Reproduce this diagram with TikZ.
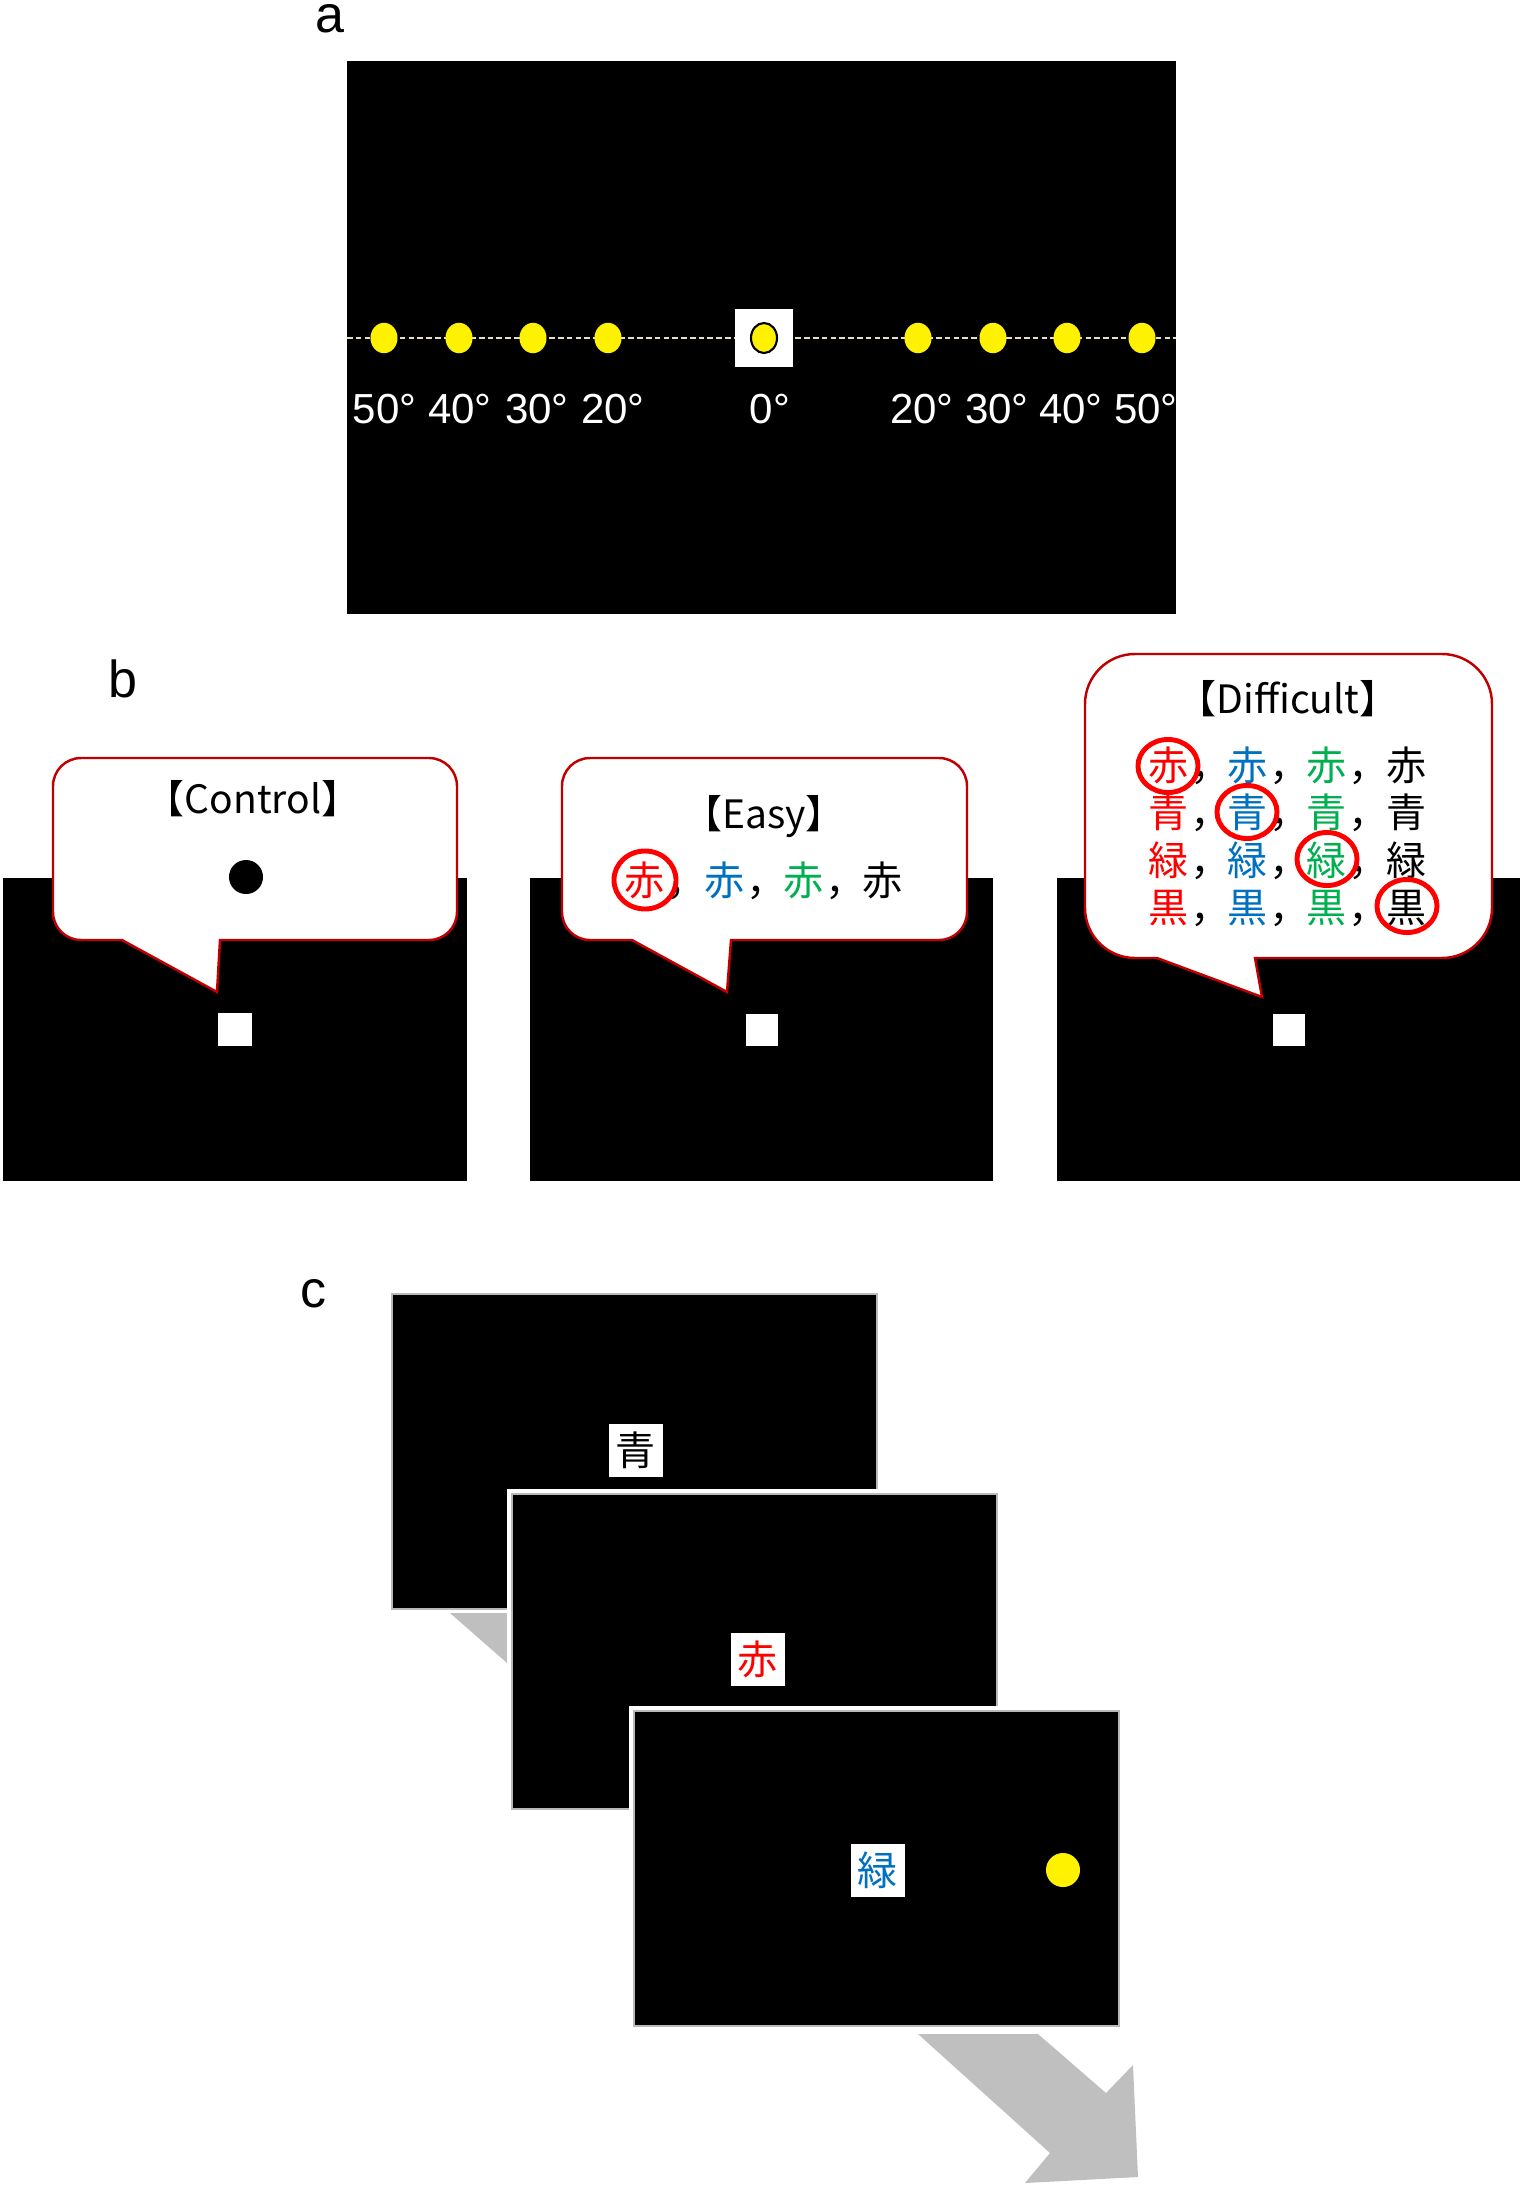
\documentclass[tikz,border=0pt]{standalone}
\usepackage{fontspec}
\setmainfont{Liberation Sans}
\newfontfamily\jp{Noto Sans CJK JP}
\definecolor{bubred}{HTML}{C00000}
\definecolor{cred}{HTML}{FF0000}
\definecolor{cblue}{HTML}{0070C0}
\definecolor{cgreen}{HTML}{00B050}
\definecolor{arrgray}{HTML}{BFBFBF}
\definecolor{dashc}{RGB}{232,222,195}
\newcommand{\mybubble}[9]{%
  \pgfmathsetmacro\bk{0.448*#5}%
  \draw[bubble] (#1+#5,#2) -- (#3-#5,#2)
    .. controls (#3-\bk,#2) and (#3,#2+\bk) .. (#3,#2+#5)
    -- (#3,#4-#5)
    .. controls (#3,#4-\bk) and (#3-\bk,#4) .. (#3-#5,#4)
    -- (#9,#4) -- (#7,#8) -- (#6,#4) -- (#1+#5,#4)
    .. controls (#1+\bk,#4) and (#1,#4-\bk) .. (#1,#4-#5)
    -- (#1,#2+#5)
    .. controls (#1,#2+\bk) and (#1+\bk,#2) .. (#1+#5,#2) -- cycle;}
\begin{document}
\begin{tikzpicture}[x=0.01cm,y=-0.01cm,
  panellab/.style={font=\fontsize{14.8}{17}\selectfont, inner sep=0, anchor=base},
  deglab/.style={text=white, font=\fontsize{11.95}{14}\selectfont, inner sep=0, anchor=base},
  bubble/.style={draw=bubred, fill=white, line width=0.7pt, line join=miter},
  hdr/.style={font=\jp\fontsize{11.1}{13}\selectfont, inner sep=0, anchor=base},
  kanji/.style={font=\jp\fontsize{11.4}{13}\selectfont, inner sep=0},
  ring/.style={draw=cred, line width=1.4pt},
  wordbox/.style={fill=white, inner sep=0, minimum width=0.53cm, minimum height=0.53cm, font=\jp\fontsize{11.4}{13}\selectfont},
  gapframe/.style={fill=white},
  cscreen/.style={fill=black, draw=gray!55, line width=0.3pt},
  arrowfill/.style={fill=arrgray},
  ydot/.style={fill=yellow}]
\useasboundingbox (0,0) rectangle (1524,2187);

% ---------- panel a ----------
\node[panellab] (la) at (330,32) {a};
\fill[black] (347,61) rectangle (1176,614);
\draw[dashc, line width=0.55pt, dash pattern=on 1.6pt off 0.9pt] (347,338) -- (1176,338);
\foreach \xx in {384,459,533,608,918,993,1067,1142}
  \fill[ydot] (\xx,338) ellipse [x radius=0.135cm, y radius=0.152cm];
\fill[white] (735,309) rectangle (793,367);
\draw[ydot, draw=black, line width=0.6pt] (764,338) ellipse [x radius=0.13cm, y radius=0.15cm];
\foreach \xx/\tt [count=\i] in {384.5/50°,460/40°,537/30°,613/20°,770/0°,922/20°,997/30°,1071/40°,1146/50°}
  \node[deglab] (deg\i) at (\xx,423) {\tt};

% ---------- panel b ----------
\node[panellab] (lb) at (123,697) {b};
\fill[black] (3,878) rectangle (467,1181);
\fill[black] (530,878) rectangle (993,1181);
\fill[black] (1057,878) rectangle (1520,1181);

% control
\mybubble{53}{758}{457}{940}{28}{122}{217}{992}{220}
\node[hdr] (h1) at (253,813) {【Control】};
\fill[black] (246,877) circle [radius=0.17cm];
\fill[white] (218,1013) rectangle (252,1046);

% easy
\mybubble{562}{758}{967}{940}{28}{632}{727}{992}{731}
\node[hdr] (h2) at (764,828) {【Easy】};
\foreach \col/\xx [count=\c] in {cred/645, cblue/725, cgreen/804, black/883}
  \node[kanji, text=\col] (e\c) at (\xx,880) {赤};
\foreach \c in {1,2,3}
  \node[kanji, anchor=base west] (ec\c) at (e\c.base east) {，};
\draw[ring] (645,880) ellipse [x radius=0.31cm, y radius=0.29cm];
\fill[white] (746,1014) rectangle (778,1046);

% difficult
\mybubble{1085}{654}{1492}{958}{50}{1157}{1262}{997}{1255}
\node[hdr] (h3) at (1288,713) {【Difficult】};
\foreach \ch [count=\r] in {赤,青,緑,黒} {
  \foreach \col/\xx [count=\c] in {cred/1169, cblue/1248, cgreen/1327, black/1407}
    \node[kanji, text=\col] (d\r\c) at (\xx,{765+47.7*(\r-1)}) {\ch};
}
\foreach \r in {1,...,4} {
  \foreach \c in {1,2,3}
    \node[kanji, anchor=base west] (dc\r\c) at (d\r\c.base east) {，};
}
\draw[ring] (1168,766) ellipse [x radius=0.30cm, y radius=0.265cm];
\draw[ring] (1247,812) ellipse [x radius=0.30cm, y radius=0.265cm];
\draw[ring] (1327,859) ellipse [x radius=0.30cm, y radius=0.265cm];
\draw[ring] (1407,906) ellipse [x radius=0.30cm, y radius=0.265cm];
\fill[white] (1273,1014) rectangle (1305,1046);

% ---------- panel c ----------
\node[panellab] (lc) at (314,1307) {c};
\filldraw[cscreen] (392,1294) rectangle (877,1609);
\node[wordbox] (w1) at (636,1450) {青};
\fill[arrowfill] (450,1613) -- (515,1613) -- (515,1670) -- cycle;
\fill[gapframe] (507,1489) rectangle (1002,1814);
\filldraw[cscreen] (512,1494) rectangle (997,1809);
\node[wordbox, text=cred] (w2) at (758,1659) {赤};
\fill[gapframe] (629,1706) rectangle (1124,2031);
\filldraw[cscreen] (634,1711) rectangle (1119,2026);
\node[wordbox, text=cblue] (w3) at (878,1870) {緑};
\fill[ydot] (1063,1870) circle [radius=0.17cm];
\fill[arrowfill] (918,2034) -- (1038,2034) -- (1106,2093) -- (1133,2065) -- (1138,2177) -- (1025,2183) -- (1050,2153) -- cycle;
\end{tikzpicture}
\end{document}
